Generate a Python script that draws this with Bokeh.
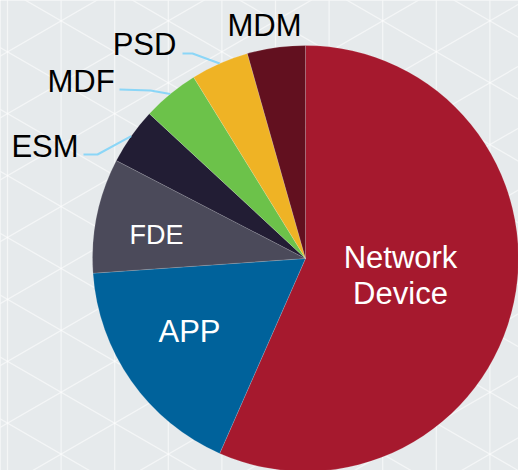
import math
from bokeh.plotting import figure
from bokeh.models import Range1d, ColumnDataSource
from bokeh.core.properties import value
from bokeh.embed import file_html
from bokeh.resources import INLINE

# ---- data ----
categories = ["Network Device", "APP", "FDE", "ESM", "MDF", "PSD", "MDM"]
shares = [56.6, 17.3, 8.7, 4.3, 4.3, 4.4, 4.4]
colors = ["#A6192E", "#00629B", "#4B4A5A", "#221D34", "#6CC24A", "#EFB325", "#62101F"]

# ---- layout (image pixel coords; data y = H - image y) ----
W, H = 518, 470
CX, CY, R = 305, 258, 213
SHIFT = 9  # compensation for text baseline placement
def Y(py):
    return H - py

p = figure(width=W, height=H, output_backend="svg", toolbar_location=None,
           x_range=Range1d(0, W), y_range=Range1d(0, H),
           min_border=0, outline_line_color=None,
           background_fill_color="#E6EAEC", border_fill_color="#E6EAEC")
p.axis.visible = False
p.grid.visible = False

# background triangular pattern
sx, sy = 53.6, 61.9
xs0, ys0, xs1, ys1 = [], [], [], []
k = -10
while 7 + k * sx < 540:
    x = 7 + k * sx
    if x > -20:
        xs0.append(x); ys0.append(Y(-20)); xs1.append(x); ys1.append(Y(500))
    k += 1
slope = sy / 2 / sx
for j in range(-20, 30):
    yb = 237 + j * sy
    for sgn in (1, -1):
        xa, xb = -20, 550
        ya = yb + sgn * slope * (xa - 7)
        ybb = yb + sgn * slope * (xb - 7)
        xs0.append(xa); ys0.append(Y(ya)); xs1.append(xb); ys1.append(Y(ybb))
p.segment(x0=xs0, y0=ys0, x1=xs1, y1=ys1, line_color="white", line_alpha=0.55, line_width=1.3)

# wedges
total = sum(shares)
starts, ends, mids = [], [], []
cum = 0.0
for s in shares:
    a0 = math.pi / 2 - 2 * math.pi * cum / total
    cum += s
    a1 = math.pi / 2 - 2 * math.pi * cum / total
    starts.append(a0); ends.append(a1); mids.append((a0 + a1) / 2)
src = ColumnDataSource(dict(cat=categories, share=shares, color=colors, start=starts, end=ends))
p.wedge(x=CX, y=Y(CY), radius=R, start_angle="start", end_angle="end", direction="clock",
        fill_color="color", line_color="white", line_alpha=0.25, line_width=0.6, source=src)

# leader lines for outside labels (ESM, MDF, PSD)
leader_starts = {"ESM": [(83, 154), (97, 154)], "MDF": [(119, 89), (150, 90)], "PSD": [(182, 53), (192, 53)]}
lx, ly = [], []
for cat, m in zip(categories, mids):
    if cat in leader_starts:
        pts = leader_starts[cat]
        ex = CX + R * math.cos(m)
        ey = Y(CY) + R * math.sin(m)
        lx.append([pts[0][0], pts[1][0], ex])
        ly.append([Y(pts[0][1]), Y(pts[1][1]), ey])
p.multi_line(xs=lx, ys=ly, line_color="#8BD6F7", line_width=2)

# labels
font = value("Liberation Sans")
outside = dict(x=[264, 144, 80.5, 44.5],
               y=[Y(34 - SHIFT), Y(53 - SHIFT), Y(90 - SHIFT), Y(155 - SHIFT)],
               t=["MDM", "PSD", "MDF", "ESM"])
p.text(x="x", y="y", text="t", source=ColumnDataSource(outside), text_font=font,
       text_font_size="31px", text_align="center", text_baseline="alphabetic", text_color="black")
inside = dict(x=[400, 400, 189], y=[Y(266 - SHIFT), Y(302 - SHIFT), Y(340 - SHIFT)],
              t=["Network", "Device", "APP"])
p.text(x="x", y="y", text="t", source=ColumnDataSource(inside), text_font=font,
       text_font_size="31px", text_align="center", text_baseline="alphabetic", text_color="white")
p.text(x=[156], y=[Y(243 - SHIFT)], text=["FDE"], text_font=font,
       text_font_size="27px", text_align="center", text_baseline="alphabetic", text_color="white")

open("out.html", "w").write(file_html(p, INLINE))
